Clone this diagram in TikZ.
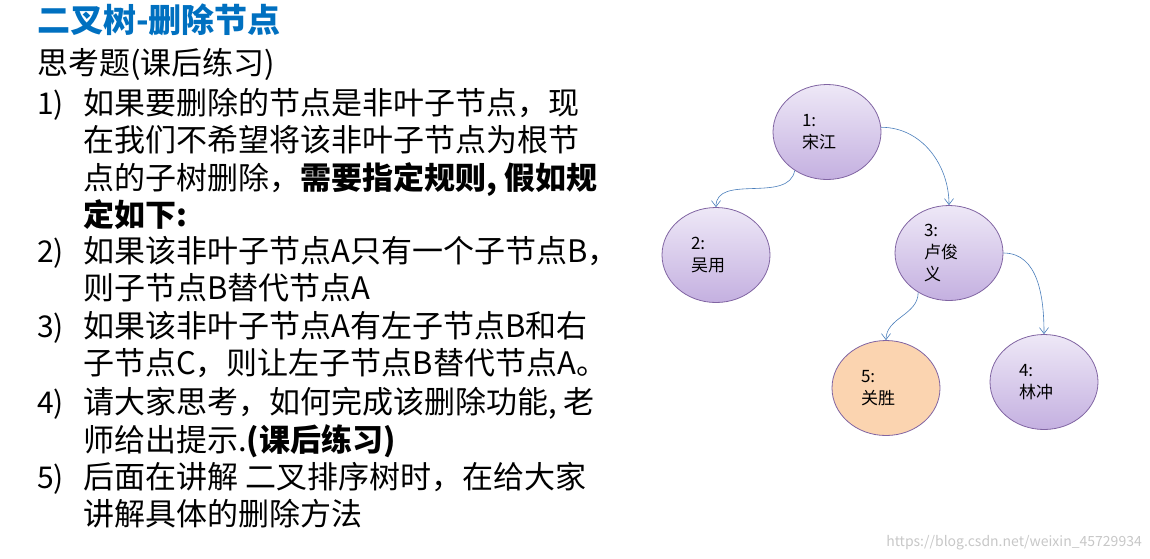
\documentclass[tikz,border=0pt]{standalone}
\usepackage{fontspec}
\setmainfont{Noto Sans CJK SC}
\usetikzlibrary{shapes.geometric,arrows.meta}
\definecolor{titleblue}{RGB}{0,112,192}
\definecolor{nodetop}{RGB}{238,232,247}
\definecolor{nodebot}{RGB}{196,176,224}
\definecolor{nodeline}{RGB}{128,100,162}
\definecolor{orangefill}{RGB}{251,212,176}
\definecolor{linkblue}{RGB}{74,126,187}
\tikzset{
  treenode/.style={ellipse,draw=nodeline,thick,top color=nodetop,bottom color=nodebot,
    minimum width=108pt,minimum height=95pt,inner sep=0pt,font=\fontsize{17}{22}\selectfont,
    align=left,text width=50pt},
  hotnode/.style={treenode,top color=orangefill,bottom color=orangefill},
  link/.style={draw=linkblue,semithick,-{Straight Barb[length=6pt,width=9pt]}},
  itemno/.style={anchor=north west,inner sep=0pt,font=\fontsize{30}{37}\selectfont},
  itemtext/.style={anchor=north west,inner sep=0pt,align=left,font=\fontsize{31}{37.5}\selectfont}
}
\begin{document}
\begin{tikzpicture}[x=1pt,y=-1pt]
\useasboundingbox (0,0) rectangle (1150,558);
% text on the left
\node[anchor=north west,inner sep=0pt,text=titleblue,font=\fontsize{33}{38}\bfseries] (title) at (37,4) {二叉树-删除节点};
\node[anchor=north west,inner sep=0pt,font=\fontsize{31}{37}\selectfont] (task) at (37,48) {思考题(课后练习)};
\node[itemno] (n1) at (37,90) {1)};
\node[itemtext] (t1) at (83,88) {如果要删除的节点是非叶子节点，现\\在我们不希望将该非叶子节点为根节\\点的子树删除，\textbf{需要指定规则, 假如规}\\\textbf{定如下:}};
\node[itemno] (n2) at (37,238) {2)};
\node[itemtext] (t2) at (83,236) {如果该非叶子节点A只有一个子节点B，\\则子节点B替代节点A};
\node[itemno] (n3) at (37,313) {3)};
\node[itemtext] (t3) at (83,311) {如果该非叶子节点A有左子节点B和右\\子节点C，则让左子节点B替代节点A。};
\node[itemno] (n4) at (37,389) {4)};
\node[itemtext] (t4) at (83,387) {请大家思考，如何完成该删除功能, 老\\师给出提示.\textbf{(课后练习)}};
\node[itemno] (n5) at (37,464) {5)};
\node[itemtext] (t5) at (83,462) {后面在讲解 二叉排序树时，在给大家\\讲解具体的删除方法};
% tree
\node[treenode] (song) at (827,132) {1:\\宋江};
\node[treenode] (wu) at (716,255) {2:\\吴用};
\node[treenode] (lu) at (949,253) {3:\\卢俊\\义};
\node[hotnode] (guan) at (886,388) {5:\\关胜};
\node[treenode] (lin) at (1044,382) {4:\\林冲};
\draw[link] (song.-130) to[out=-100,in=90,looseness=1] (wu.north);
\draw[link] (song.5) to[out=0,in=90] (lu.north);
\draw[link] (lu.-128) to[out=-90,in=90] (guan.north);
\draw[link] (lu.0) to[out=0,in=90] (lin.north);
% watermark
\node[anchor=south east,inner sep=0pt,text=black!22,font=\fontsize{14}{16}\selectfont] (mark) at (1142,550) {https://blog.csdn.net/weixin\_45729934};
\end{tikzpicture}
\end{document}
